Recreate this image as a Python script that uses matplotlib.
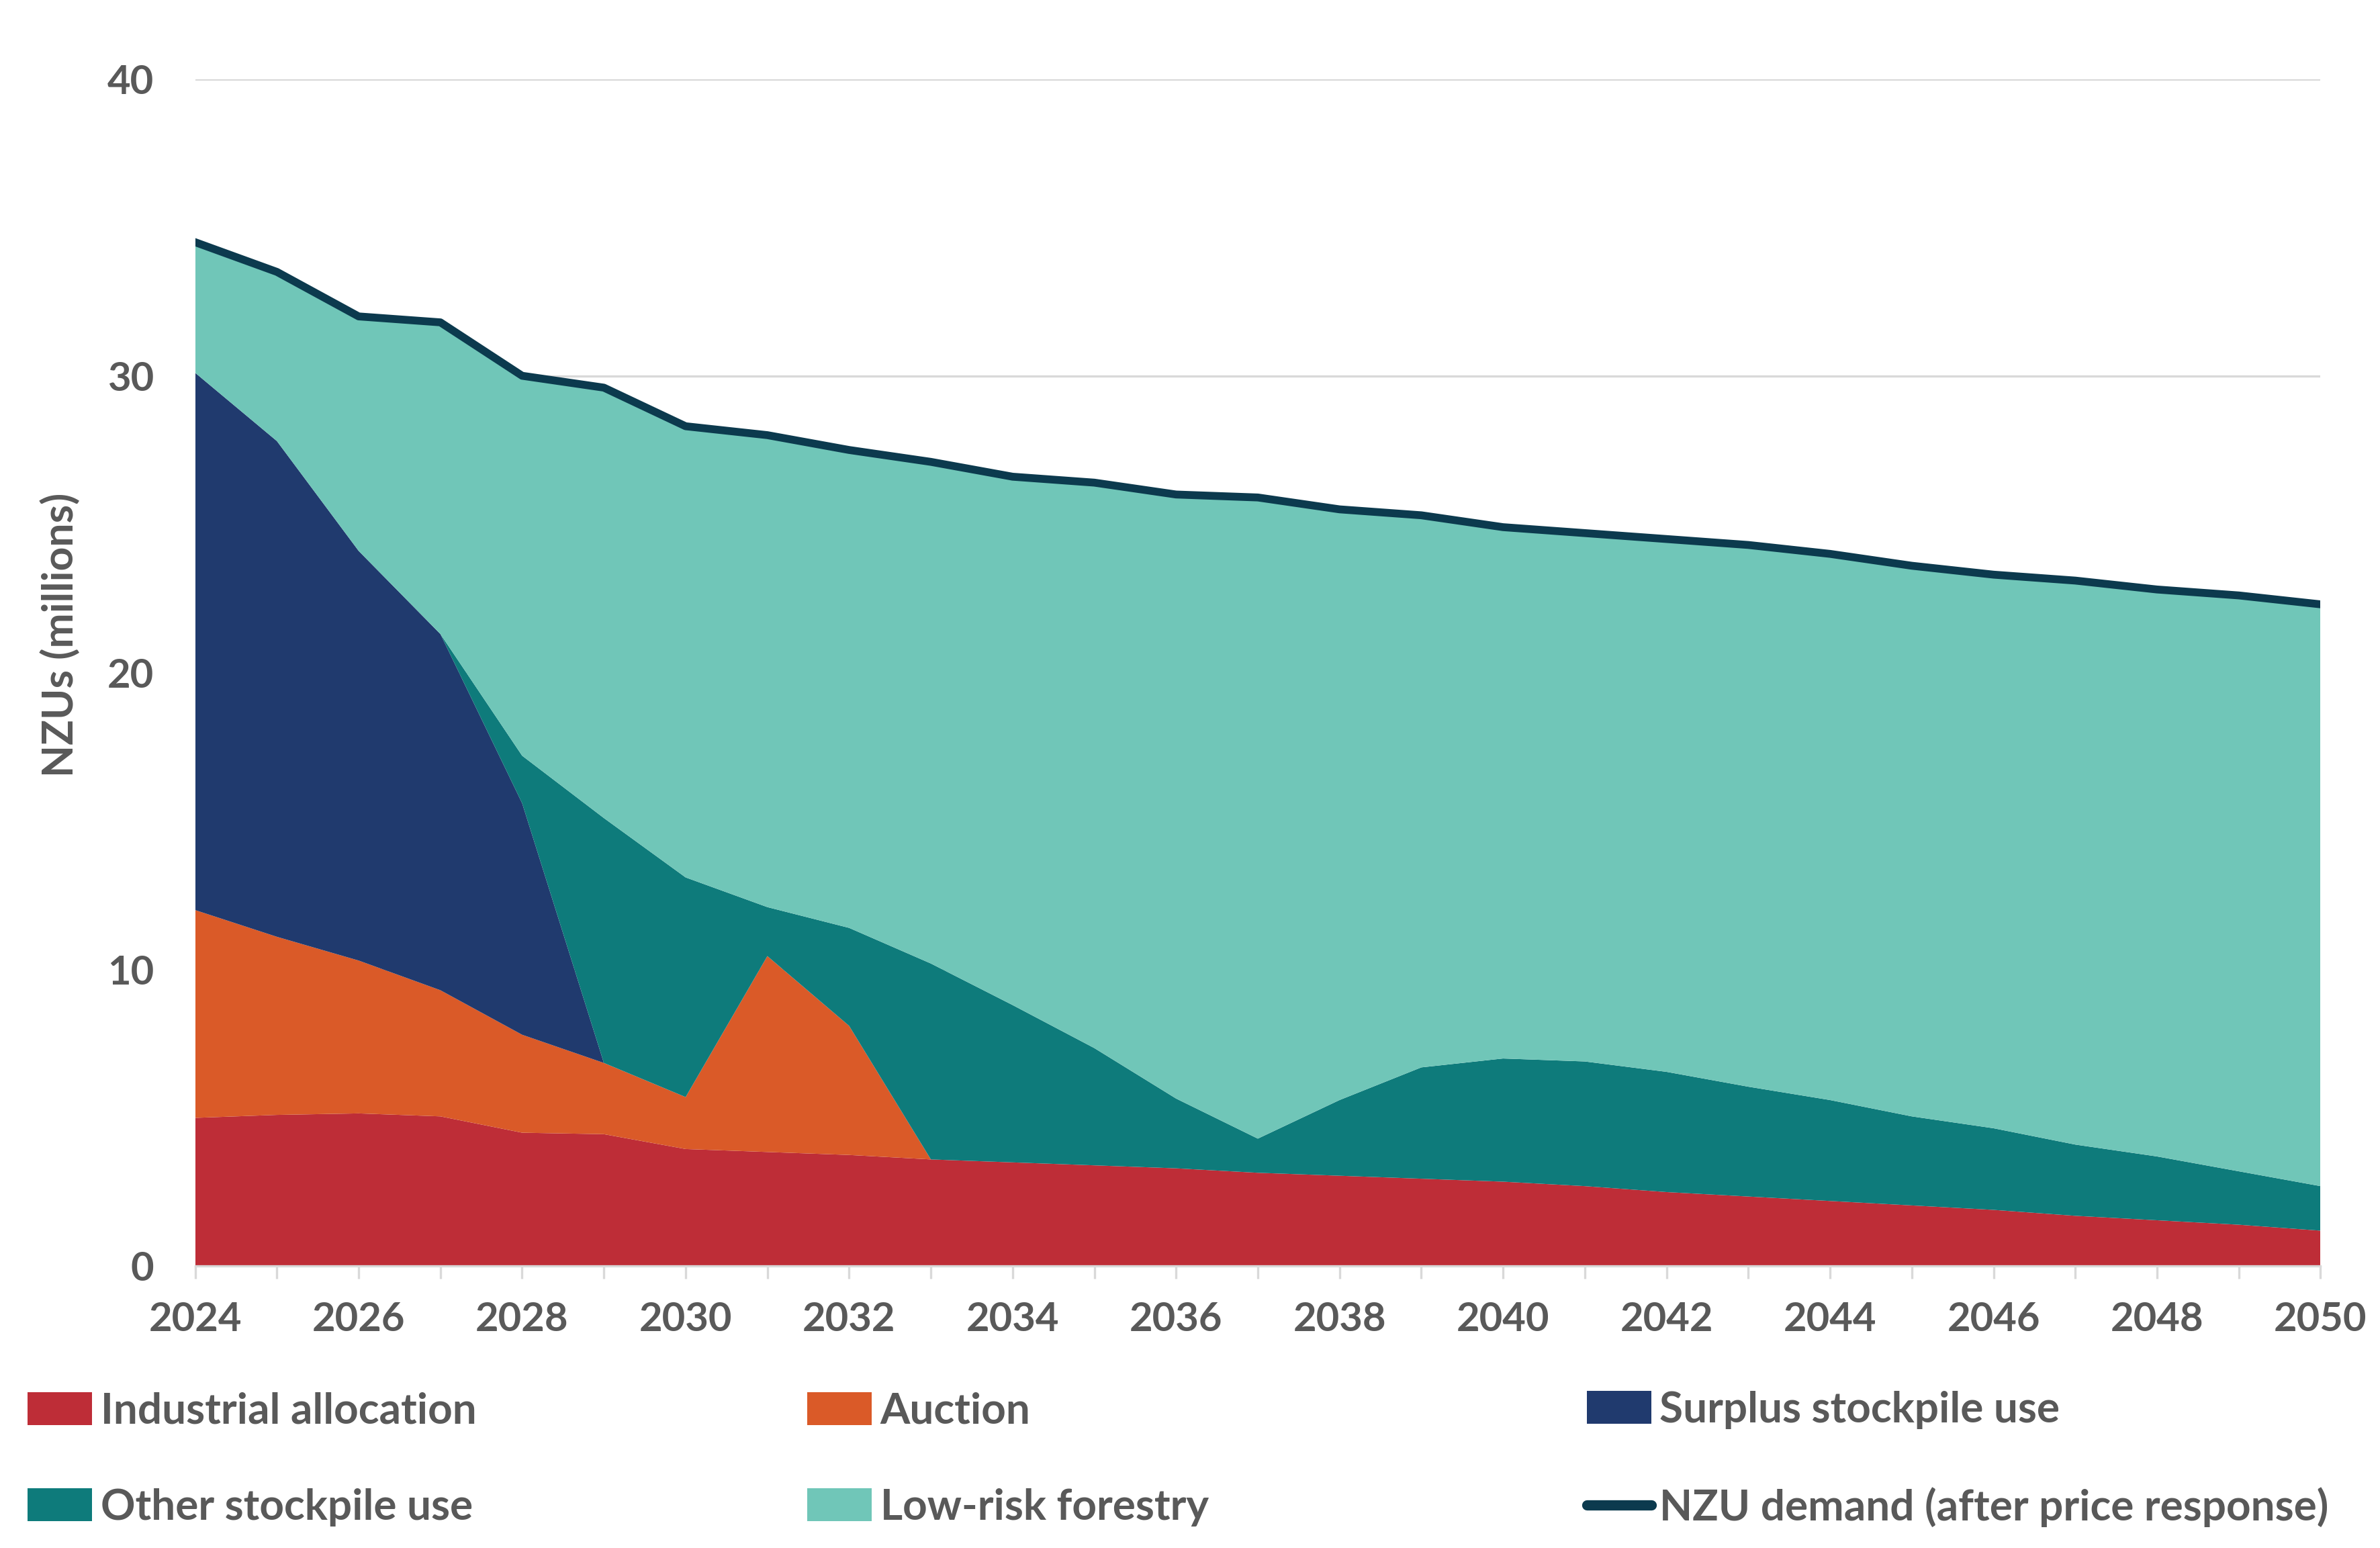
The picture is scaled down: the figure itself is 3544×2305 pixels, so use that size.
import matplotlib
matplotlib.use("Agg")
import matplotlib.pyplot as plt
from matplotlib.patches import Patch
from matplotlib.lines import Line2D
import numpy as np

plt.rcParams['font.family'] = ['Lato', 'DejaVu Sans']
plt.rcParams['font.weight'] = 'bold'

years = list(range(2024, 2051))

industrial = [5.0, 5.1, 5.15, 5.05, 4.5, 4.45, 3.95, 3.85, 3.75, 3.6, 3.5, 3.4, 3.3, 3.15,
              3.05, 2.95, 2.85, 2.7, 2.5, 2.35, 2.2, 2.05, 1.9, 1.7, 1.55, 1.4, 1.2]
auction = [7.0, 6.0, 5.15, 4.25, 3.3, 2.4, 1.75, 6.6, 4.35, 0, 0, 0, 0, 0,
           0, 0, 0, 0, 0, 0, 0, 0, 0, 0, 0, 0, 0]
surplus = [18.1, 16.7, 13.8, 12.0, 7.8, 0, 0, 0, 0, 0, 0, 0, 0, 0,
           0, 0, 0, 0, 0, 0, 0, 0, 0, 0, 0, 0, 0]
other = [0, 0, 0, 0, 1.6, 8.25, 7.4, 1.65, 3.3, 6.6, 5.3, 3.95, 2.35, 1.15,
         2.55, 3.75, 4.15, 4.2, 4.05, 3.7, 3.4, 3.0, 2.75, 2.4, 2.15, 1.8, 1.5]
demand = [34.5, 33.5, 32.0, 31.8, 30.0, 29.6, 28.3, 28.0, 27.5, 27.1, 26.6, 26.4, 26.0, 25.9,
          25.5, 25.3, 24.9, 24.7, 24.5, 24.3, 24.0, 23.6, 23.3, 23.1, 22.8, 22.6, 22.3]

# forestry fills the gap up to demand
forestry = list(np.array(demand) - (np.array(industrial) + np.array(auction)
                                    + np.array(surplus) + np.array(other)))

labels = ['Industrial allocation', 'Auction', 'Surplus stockpile use',
          'Other stockpile use', 'Low-risk forestry', 'NZU demand (after price response)']
colors = ['#BE2D37', '#DA5A28', '#203A6E', '#0E7B7B', '#70C6B8', '#0C3A4E']
grey = '#595959'

fig = plt.figure(figsize=(17.72, 11.525), dpi=200)
ax = fig.add_axes([0.082, 0.182, 0.893, 0.767])

ax.stackplot(years, industrial, auction, surplus, other, forestry,
             colors=colors[:5], linewidth=0)
ax.plot(years, demand, color=colors[5], lw=4.2)

ax.set_xlim(2024, 2050)
ax.set_ylim(0, 40)
ax.set_yticks([0, 10, 20, 30, 40])
ax.set_xticks(range(2024, 2051, 2))
ax.set_xticks(range(2025, 2050, 2), minor=True)
ax.grid(axis='y', color='#D9D9D9', lw=1.2)
ax.set_axisbelow(True)
for s in ['top', 'right', 'left']:
    ax.spines[s].set_visible(False)
ax.spines['bottom'].set_color('#D9D9D9')
ax.spines['bottom'].set_linewidth(1.2)
ax.tick_params(axis='y', length=0, pad=22, labelsize=21.5, labelcolor=grey)
ax.tick_params(axis='x', which='both', length=7, width=1.2, color='#D9D9D9',
               pad=12, labelsize=21.5, labelcolor=grey)
ax.set_ylabel('NZUs (millions)', fontsize=22.5, color=grey, fontweight='bold')
ax.yaxis.set_label_coords(-0.054, 0.532)

handles = [Patch(facecolor=c, edgecolor='none') for c in colors[:5]]
handles.append(Line2D([0], [0], color=colors[5], lw=5.5, solid_capstyle='round'))

col_x = [0.0116, 0.3392, 0.6667]
for i, x in enumerate(col_x):
    leg = fig.legend([handles[i], handles[i + 3]], [labels[i], labels[i + 3]],
                     loc='center left', bbox_to_anchor=(x, 0.0575), frameon=False,
                     fontsize=23, labelcolor=grey, borderpad=0, borderaxespad=0,
                     handlelength=1.5, handleheight=0.8, handletextpad=0.2,
                     labelspacing=1.35)

fig.savefig('out.png', dpi=200)
